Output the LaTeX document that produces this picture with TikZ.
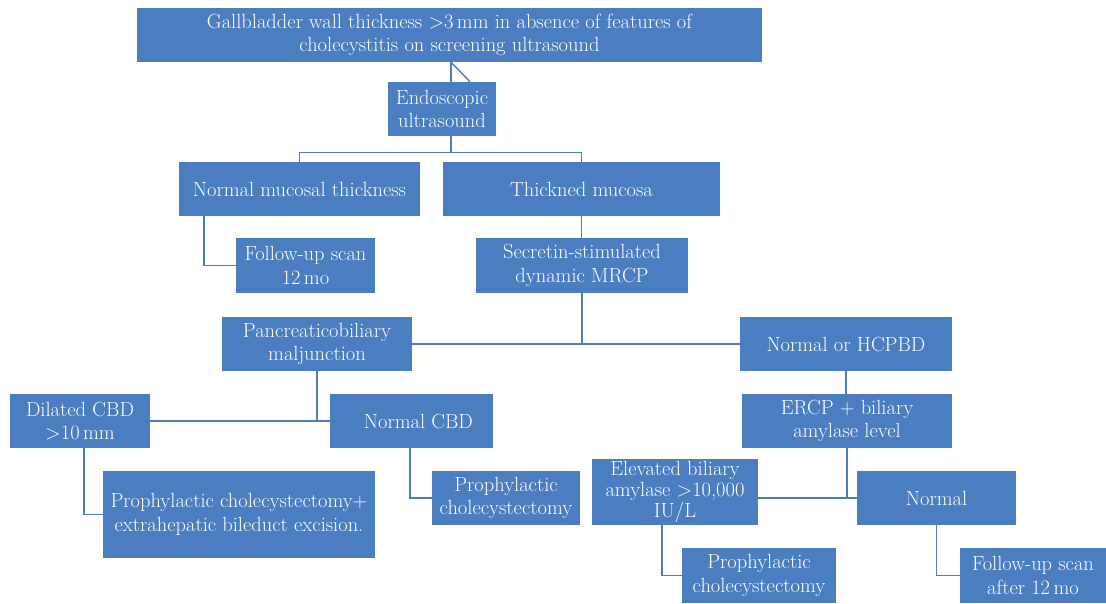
\documentclass[tikz,border=0pt]{standalone}
\usepackage{fontspec}
\usetikzlibrary{calc}
\definecolor{boxblue}{RGB}{74,126,193}
\definecolor{lineblue}{RGB}{79,125,185}
\begin{document}
\begin{tikzpicture}[x=1pt,y=-1pt,
  box/.style={fill=boxblue, draw=none, text=white, inner sep=0pt, align=center,
    font=\fontsize{20.5}{23.5}\selectfont},
  conn/.style={draw=lineblue, line width=1.4pt}]
\useasboundingbox (0,0) rectangle (1106,603);
\node[box, minimum width=625pt, minimum height=54pt] (top) at (449.5,35) {Gallbladder wall thickness >3\,mm in absence of features of\\cholecystitis on screening ultrasound};
\node[box, minimum width=108pt, minimum height=54pt] (endo) at (442,109) {Endoscopic\\ultrasound};
\node[box, minimum width=241pt, minimum height=54pt] (nmt) at (299.5,189) {Normal mucosal thickness};
\node[box, minimum width=277pt, minimum height=54pt] (thick) at (581.5,189) {Thickned mucosa};
\node[box, minimum width=139pt, minimum height=55pt] (fu1) at (305.5,265.5) {Follow-up scan\\12\,mo};
\node[box, minimum width=212pt, minimum height=55pt] (sec) at (582,265.5) {Secretin-stimulated\\dynamic MRCP};
\node[box, minimum width=190pt, minimum height=54pt] (pbm) at (317,344) {Pancreaticobiliary\\maljunction};
\node[box, minimum width=212pt, minimum height=54pt] (nh) at (846,344) {Normal or HCPBD};
\node[box, minimum width=140pt, minimum height=54pt] (dil) at (80,421) {Dilated CBD\\>10\,mm};
\node[box, minimum width=163pt, minimum height=54pt] (ncbd) at (411.5,421) {\hspace*{14pt}Normal CBD};
\node[box, minimum width=210pt, minimum height=54pt] (ercp) at (847,421) {ERCP + biliary\\amylase level};
\node[box, minimum width=272pt, minimum height=87pt] (pce) at (239,514.5) {Prophylactic cholecystectomy+\\extrahepatic bileduct excision.};
\node[box, minimum width=148pt, minimum height=54pt] (pc1) at (506,498) {Prophylactic\\cholecystectomy};
\node[box, minimum width=166pt, minimum height=66pt, font=\fontsize{20.5}{21}\selectfont] (elev) at (675,492) {Elevated biliary\\amylase >10,000\\IU/L};
\node[box, minimum width=159pt, minimum height=54pt] (norm) at (936.5,498) {Normal};
\node[box, minimum width=154pt, minimum height=55pt] (pc2) at (759,575.5) {Prophylactic\\cholecystectomy};
\node[box, minimum width=146pt, minimum height=55pt] (fu2) at (1033,575.5) {Follow-up scan\\after 12\,mo};
% connectors
\coordinate (t1) at ($(top.south)+(1.5,0)$);
\draw[conn] (t1) -- (t1 |- endo.north);
\draw[conn] (t1) -- ($(endo.north)+(28,0)$);
\coordinate (e1) at ($(endo.south)+(9,16)$);
\draw[conn] ($(endo.south)+(9,0)$) -- (e1);
\draw[conn] (nmt.north) |- (e1) -| (thick.north);
\draw[conn] ([xshift=25pt]nmt.south west) |- (fu1.west);
\draw[conn] (thick.south) -- (thick.south |- sec.north);
\draw[conn] (pbm.east) -- (nh.west);
\draw[conn] (sec.south) -- (sec.south |- pbm.east);
\draw[conn] (dil.east) -- (ncbd.west);
\draw[conn] (pbm.south) -- (pbm.south |- dil.east);
\draw[conn] ([xshift=4pt]dil.south) |- (pce.west);
\draw[conn] ([xshift=-1.5pt]ncbd.south) |- (pc1.west);
\draw[conn] (nh.south) -- (nh.south |- ercp.north);
\draw[conn] (elev.east |- norm.west) -- (norm.west);
\draw[conn] (ercp.south) -- (ercp.south |- norm.west);
\draw[conn] ([xshift=-13pt]elev.south) |- (pc2.west);
\draw[conn] (norm.south) |- (fu2.west);
\end{tikzpicture}
\end{document}
